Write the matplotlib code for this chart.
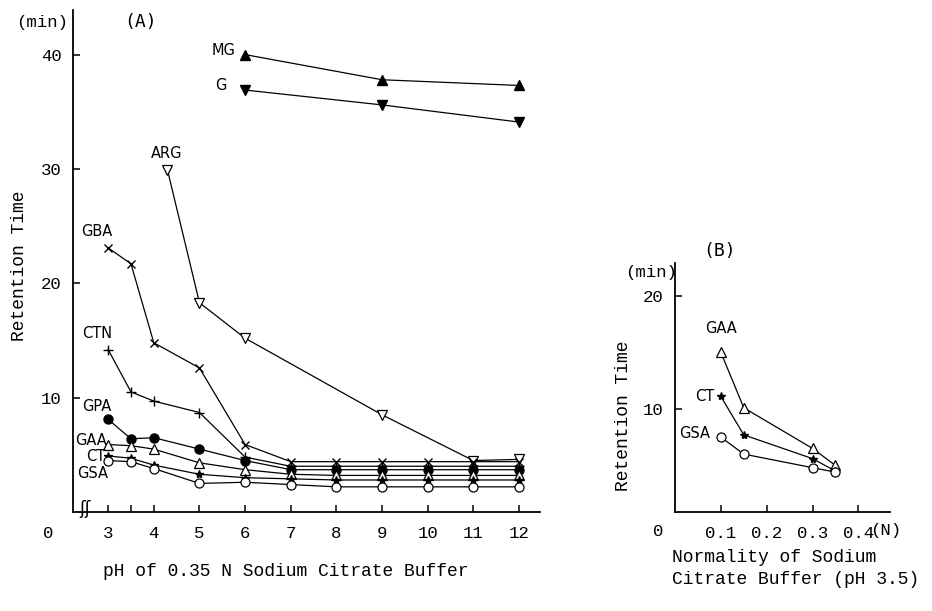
import numpy as np
import matplotlib.pyplot as plt

# panel A: retention time vs pH of 0.35 N sodium citrate buffer
ph = [3, 3.5, 4, 5, 6, 7, 8, 9, 10, 11, 12]
ph_mg = [6, 9, 12]
mg = [40.0, 37.8, 37.3]
g = [36.9, 35.6, 34.1]
ph_arg = [4.3, 5, 6, 9, 11, 12]
arg = [29.9, 18.3, 15.2, 8.5, 4.5, 4.6]
gba = [23.1, 21.7, 14.8, 12.6, 5.9, 4.4, 4.4, 4.4, 4.4, 4.4, 4.4]
ctn = [14.2, 10.5, 9.7, 8.7, 4.8, 4.0, 4.0, 4.0, 4.0, 4.0, 4.0]
gpa = [8.1, 6.4, 6.5, 5.5, 4.5, 3.7, 3.7, 3.7, 3.7, 3.7, 3.7]
gaa = [5.9, 5.8, 5.5, 4.3, 3.7, 3.3, 3.2, 3.2, 3.2, 3.2, 3.2]
ct = [4.9, 4.7, 4.1, 3.3, 3.0, 2.9, 2.8, 2.8, 2.8, 2.8, 2.8]
gsa = [4.5, 4.4, 3.8, 2.5, 2.6, 2.4, 2.2, 2.2, 2.2, 2.2, 2.2]
ph_ticks = [3, 3.5, 4, 5, 6, 7, 8, 9, 10, 11, 12]
ph_labels = ['3', '', '4', '5', '6', '7', '8', '9', '10', '11', '12']

# panel B: retention time vs normality (pH 3.5)
norm = [0.1, 0.15, 0.3, 0.35]
b_gaa = [15.0, 10.1, 6.5, 5.0]
b_ct = [11.1, 7.7, 5.6, 4.5]
b_gsa = [7.5, 6.0, 4.8, 4.4]
norm_ticks = [0.1, 0.2, 0.3, 0.4]

mono = 'Liberation Mono'
lab = ['Liberation Sans Narrow', 'DejaVu Sans']

W, H = 932, 611
fig = plt.figure(figsize=(W / 100, H / 100), dpi=100)

def frac(x0, y0, x1, y1):
    return [x0 / W, 1 - y1 / H, (x1 - x0) / W, (y1 - y0) / H]

def put(x, y, s, **kw):
    # place a text at reference pixel coords (top-left origin)
    kw.setdefault('family', mono)
    kw.setdefault('fontsize', 12.5)
    kw.setdefault('ha', 'center')
    kw.setdefault('va', 'center')
    fig.text(x / W, 1 - y / H, s, **kw)

axA = fig.add_axes(frac(73, 10, 540, 512))
axB = fig.add_axes(frac(675, 263, 890, 512))

for ax in (axA, axB):
    for s in ('top', 'right'):
        ax.spines[s].set_visible(False)
    ax.spines['left'].set_linewidth(1.3)
    ax.spines['bottom'].set_linewidth(1.3)
    ax.tick_params(direction='in', length=5, width=1.1, labelsize=12.5)
    ax.tick_params(axis='x', pad=10)
    ax.tick_params(axis='y', pad=8)

line_kw = dict(color='black', lw=0.9)
op = dict(mfc='white', mec='black', mew=0.9)
fl = dict(mfc='black', mec='black')

series_a = [
    (ph_mg, mg, '^', 7, fl, 'MG', (-22, 4)),
    (ph_mg, g, 'v', 7, fl, 'G', (-24, 5)),
    (ph_arg, arg, 'v', 7, op, 'ARG', (-1, 17)),
    (ph, gba, 'x', 6, fl, 'GBA', (-11, 16)),
    (ph, ctn, '+', 7, fl, 'CTN', (-11, 16)),
    (ph, gpa, 'o', 6.5, fl, 'GPA', (-11, 13)),
    (ph, gaa, '^', 7, op, 'GAA', (-17, 4)),
    (ph, ct, '*', 6, fl, 'CT', (-12, -1)),
    (ph, gsa, 'o', 6.5, op, 'GSA', (-16, -13)),
]
for xs, ys, m, ms, mk, name, off in series_a:
    axA.plot(xs, ys, marker=m, ms=ms, **mk, **line_kw)
    axA.annotate(name, (xs[0], ys[0]), xytext=off, textcoords='offset pixels',
                 ha='center', va='center', fontsize=10.5, family=lab)

axA.set_xlim(2.23, 12.46)
axA.set_ylim(0, 43.9)
axA.set_xticks(ph_ticks)
axA.set_xticklabels(ph_labels, family=mono)
axA.set_yticks([10, 20, 30, 40])
axA.set_yticklabels(['10', '20', '30', '40'], family=mono)

series_b = [
    (b_gaa, '^', 7, op, 'GAA', (0, 24)),
    (b_ct, '*', 6, fl, 'CT', (-16, 0)),
    (b_gsa, 'o', 6.5, op, 'GSA', (-26, 4)),
]
for ys, m, ms, mk, name, off in series_b:
    axB.plot(norm, ys, marker=m, ms=ms, **mk, **line_kw)
    axB.annotate(name, (norm[0], ys[0]), xytext=off, textcoords='offset pixels',
                 ha='center', va='center', fontsize=10.5, family=lab)

axB.set_xlim(0.0, 0.469)
axB.set_ylim(0.88, 22.9)
axB.set_xticks(norm_ticks)
axB.set_xticklabels(['0.1', '0.2', '0.3', '0.4'], family=mono)
axB.set_yticks([10, 20])
axB.set_yticklabels(['10', '20'], family=mono)

# axis titles and free texts
put(20, 266, 'Retention Time', rotation=90, fontsize=13)
put(623, 416, 'Retention Time', rotation=90, fontsize=13)
put(286, 572, 'pH of 0.35 N Sodium Citrate Buffer', fontsize=13)
put(672, 558, 'Normality of Sodium', fontsize=13, ha='left')
put(672, 579, 'Citrate Buffer (pH 3.5)', fontsize=13, ha='left')
put(42, 22, '(min)')
put(651, 272, '(min)')
put(141, 22, '(A)', family='DejaVu Sans Mono', fontsize=13)
put(720, 251, '(B)', family='DejaVu Sans Mono', fontsize=13)
put(48, 533, '0')
put(658, 532, '0')
put(886, 531, '(N)')
put(85, 509, 'ʃʃ', family='DejaVu Sans', fontsize=12)

fig.savefig('out.png', dpi=100)
